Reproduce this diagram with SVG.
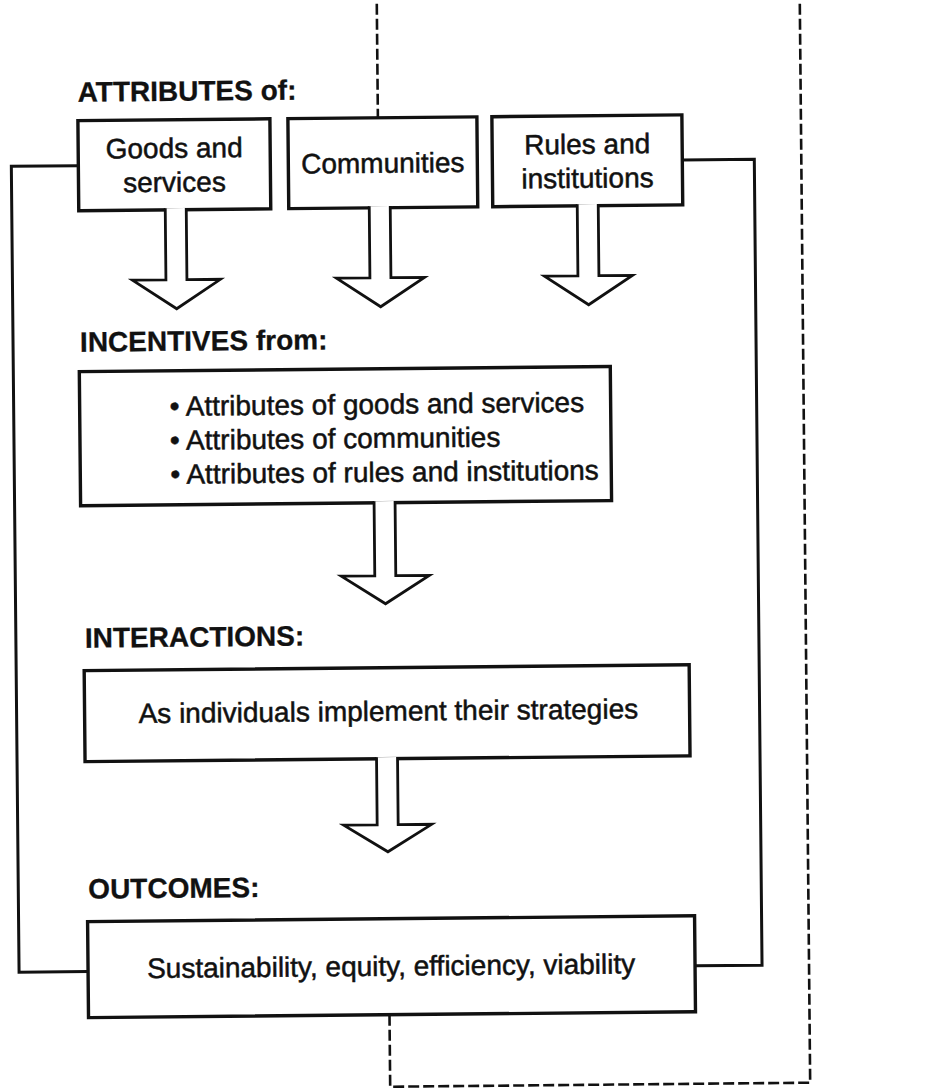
<svg xmlns="http://www.w3.org/2000/svg" width="926" height="1092" viewBox="0 0 926 1092">
<style>
.box{fill:#fff;stroke:#111;stroke-width:3.4}
.lbl{font-family:"Liberation Sans",Arial,sans-serif;font-weight:bold;font-size:28px;fill:#111;stroke:#111;stroke-width:0.3}
.txt{font-family:"Liberation Sans",Arial,sans-serif;font-size:28px;fill:#111;stroke:#111;stroke-width:0.5}
.mid{text-anchor:middle}
.line{fill:none;stroke:#111;stroke-width:3}
.dash{fill:none;stroke:#111;stroke-width:2.6;stroke-dasharray:11 4}
.arrow{fill:#fff;stroke:#111;stroke-width:2.8;stroke-linejoin:miter}
</style>
<rect width="926" height="1092" fill="#fff"/>
<g transform="rotate(-0.55 463 546)">
  <g id="label-attributes"><text class="lbl" x="82" y="98">ATTRIBUTES of:</text></g>
  <g id="node-goods">
    <rect class="box" x="82" y="117" width="192" height="90"/>
    <text class="txt mid" x="178" y="155">Goods and</text>
    <text class="txt mid" x="178" y="189">services</text>
  </g>
  <g id="node-communities">
    <rect class="box" x="292" y="117" width="189" height="90"/>
    <text class="txt mid" x="386.5" y="172">Communities</text>
  </g>
  <g id="node-rules">
    <rect class="box" x="496" y="117" width="190" height="90"/>
    <text class="txt mid" x="591" y="155">Rules and</text>
    <text class="txt mid" x="591" y="189">institutions</text>
  </g>
  <g id="label-incentives"><text class="lbl" x="82" y="348">INCENTIVES from:</text></g>
  <g id="node-incentives">
    <rect class="box" x="81" y="368" width="531" height="134"/>
    <text class="txt" x="171" y="413">• Attributes of goods and services</text>
    <text class="txt" x="171" y="447">• Attributes of communities</text>
    <text class="txt" x="171" y="481">• Attributes of rules and institutions</text>
  </g>
  <g id="label-interactions"><text class="lbl" x="84" y="644">INTERACTIONS:</text></g>
  <g id="node-interactions">
    <rect class="box" x="83" y="667" width="605" height="91"/>
    <text class="txt" x="137" y="720">As individuals implement their strategies</text>
  </g>
  <g id="label-outcomes"><text class="lbl" x="85" y="895">OUTCOMES:</text></g>
  <g id="node-outcomes">
    <rect class="box" x="84" y="918" width="607" height="96"/>
    <text class="txt" x="143" y="975" font-size="27.5">Sustainability, equity, efficiency, viability</text>
  </g>
  <g id="connectors">
    <path class="line" d="M82,162 H15 V968 H84"/>
    <path class="line" d="M686,162 H758 V968 H691"/>
    <path class="dash" d="M382,-12 V117"/>
    <path class="dash" d="M385,1014 V1086 H805 V-12"/>
    <path class="arrow" d="M168.5,205.3 V277 H135 L179,306 L223,277 H189.5 V205.3"/>
    <path class="arrow" d="M372.5,205.3 V277 H339 L383,306 L427,277 H393.5 V205.3"/>
    <path class="arrow" d="M580.5,205.3 V277 H547 L591,306 L635,277 H601.5 V205.3"/>
    <path class="arrow" d="M374.5,500.3 V575 H341 L385,603 L429,575 H395.5 V500.3"/>
    <path class="arrow" d="M374.5,756.3 V824 H341 L385,851 L429,824 H395.5 V756.3"/>
  </g>
</g>
</svg>
